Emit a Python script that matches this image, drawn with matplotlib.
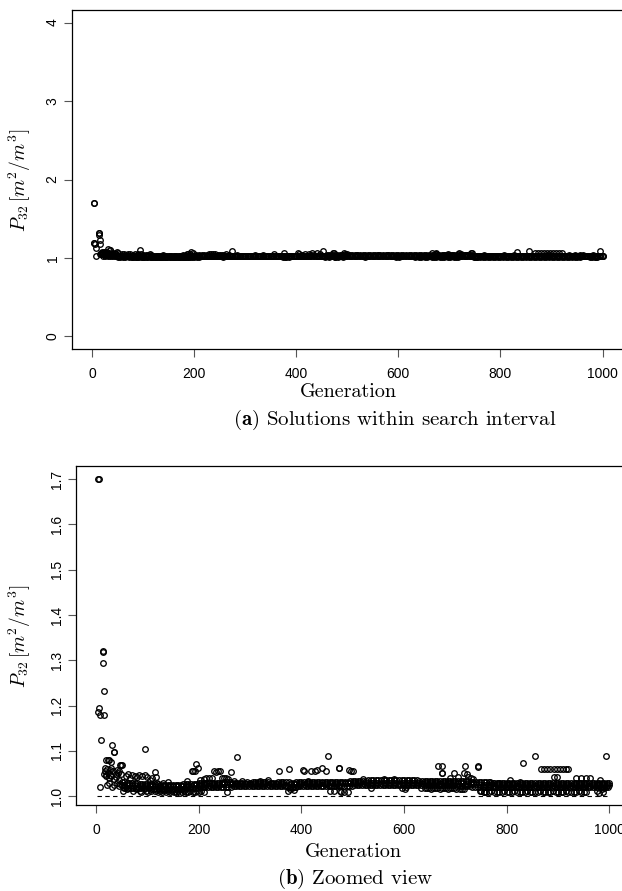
import matplotlib
matplotlib.use("Agg")
import matplotlib.pyplot as plt
import numpy as np

plt.rcParams["mathtext.fontset"] = "cm"
plt.rcParams["font.family"] = ["Liberation Sans", "DejaVu Sans"]

# main band of the population, read every 5 generations
# upper edge: gens 50, 55, ..., 1000
band_hi = [1.031, 1.031, 1.030, 1.030, 1.029, 1.029, 1.029, 1.028, 1.028, 1.028,
           1.028, 1.027, 1.027, 1.027, 1.027, 1.026, 1.026, 1.026, 1.026, 1.026,
           1.026, 1.026, 1.026, 1.026, 1.027, 1.027, 1.027, 1.027, 1.028, 1.028,
           1.029, 1.029, 1.029, 1.030, 1.030, 1.030, 1.030, 1.030, 1.030, 1.030,
           1.031, 1.031, 1.031, 1.030, 1.030, 1.030, 1.030, 1.030, 1.030, 1.031,
           1.030, 1.031, 1.031, 1.031, 1.031, 1.031, 1.031, 1.031, 1.030, 1.030,
           1.030, 1.031, 1.031, 1.031, 1.031, 1.031, 1.030, 1.030, 1.031, 1.031,
           1.031, 1.031, 1.031, 1.031, 1.031, 1.031, 1.032, 1.032, 1.031, 1.031,
           1.031, 1.031, 1.032, 1.032, 1.032, 1.032, 1.032, 1.032, 1.032, 1.033,
           1.033, 1.033, 1.034, 1.034, 1.034, 1.034, 1.035, 1.035, 1.035, 1.035,
           1.035, 1.035, 1.035, 1.035, 1.035, 1.035, 1.035, 1.035, 1.035, 1.035,
           1.035, 1.035, 1.035, 1.035, 1.035, 1.035, 1.034, 1.034, 1.034, 1.034,
           1.034, 1.034, 1.034, 1.034, 1.034, 1.034, 1.034, 1.034, 1.034, 1.034,
           1.034, 1.034, 1.033, 1.033, 1.033, 1.033, 1.032, 1.032, 1.032, 1.032,
           1.031, 1.031, 1.031, 1.031, 1.030, 1.030, 1.030, 1.030, 1.030, 1.030,
           1.030, 1.030, 1.030, 1.030, 1.030, 1.030, 1.030, 1.030, 1.030, 1.030,
           1.030, 1.030, 1.030, 1.030, 1.030, 1.030, 1.030, 1.030, 1.030, 1.030,
           1.030, 1.030, 1.030, 1.030, 1.030, 1.030, 1.030, 1.030, 1.030, 1.030,
           1.030, 1.030, 1.030, 1.030, 1.030, 1.030, 1.030, 1.030, 1.030, 1.030,
           1.029]
# centre: gens 50, 55, ..., 1000
band_mid = [1.026, 1.025, 1.025, 1.024, 1.024, 1.024, 1.023, 1.023, 1.023, 1.023,
            1.023, 1.023, 1.022, 1.022, 1.022, 1.022, 1.022, 1.022, 1.022, 1.022,
            1.022, 1.022, 1.022, 1.022, 1.023, 1.023, 1.023, 1.023, 1.024, 1.024,
            1.025, 1.025, 1.025, 1.026, 1.026, 1.026, 1.026, 1.026, 1.026, 1.027,
            1.027, 1.027, 1.027, 1.027, 1.027, 1.027, 1.027, 1.027, 1.027, 1.027,
            1.027, 1.027, 1.028, 1.027, 1.027, 1.027, 1.028, 1.027, 1.027, 1.027,
            1.027, 1.028, 1.027, 1.027, 1.026, 1.025, 1.027, 1.027, 1.027, 1.027,
            1.028, 1.028, 1.028, 1.028, 1.028, 1.028, 1.028, 1.028, 1.029, 1.028,
            1.028, 1.028, 1.029, 1.028, 1.028, 1.028, 1.029, 1.029, 1.029, 1.029,
            1.029, 1.029, 1.030, 1.030, 1.030, 1.030, 1.030, 1.030, 1.030, 1.030,
            1.030, 1.030, 1.030, 1.030, 1.030, 1.030, 1.030, 1.030, 1.030, 1.030,
            1.030, 1.030, 1.030, 1.030, 1.030, 1.030, 1.030, 1.030, 1.030, 1.030,
            1.030, 1.030, 1.030, 1.030, 1.030, 1.030, 1.030, 1.030, 1.030, 1.030,
            1.030, 1.029, 1.029, 1.029, 1.028, 1.028, 1.028, 1.027, 1.027, 1.027,
            1.026, 1.026, 1.026, 1.026, 1.026, 1.026, 1.026, 1.026, 1.026, 1.026,
            1.026, 1.026, 1.026, 1.026, 1.026, 1.026, 1.026, 1.026, 1.026, 1.026,
            1.026, 1.026, 1.026, 1.026, 1.026, 1.026, 1.026, 1.026, 1.026, 1.026,
            1.026, 1.026, 1.026, 1.026, 1.026, 1.026, 1.026, 1.026, 1.026, 1.026,
            1.026, 1.026, 1.026, 1.026, 1.026, 1.026, 1.026, 1.026, 1.026, 1.026,
            1.026]
# lower edge: gens 53, 58, ..., 998
band_lo = [1.020, 1.020, 1.019, 1.019, 1.019, 1.018, 1.018, 1.018, 1.018, 1.018,
           1.018, 1.017, 1.017, 1.017, 1.017, 1.017, 1.017, 1.017, 1.017, 1.017,
           1.017, 1.017, 1.017, 1.017, 1.017, 1.018, 1.018, 1.018, 1.019, 1.019,
           1.020, 1.020, 1.020, 1.020, 1.021, 1.021, 1.021, 1.021, 1.021, 1.021,
           1.021, 1.021, 1.021, 1.022, 1.022, 1.022, 1.022, 1.022, 1.022, 1.022,
           1.022, 1.022, 1.022, 1.022, 1.022, 1.022, 1.022, 1.022, 1.022, 1.022,
           1.022, 1.022, 1.022, 1.022, 1.021, 1.021, 1.020, 1.020, 1.022, 1.022,
           1.022, 1.022, 1.022, 1.022, 1.022, 1.022, 1.022, 1.022, 1.023, 1.023,
           1.023, 1.023, 1.023, 1.023, 1.023, 1.023, 1.023, 1.023, 1.023, 1.023,
           1.024, 1.024, 1.024, 1.024, 1.024, 1.024, 1.024, 1.024, 1.024, 1.024,
           1.024, 1.024, 1.024, 1.024, 1.024, 1.024, 1.024, 1.024, 1.024, 1.024,
           1.024, 1.024, 1.024, 1.024, 1.024, 1.024, 1.024, 1.024, 1.024, 1.024,
           1.024, 1.024, 1.024, 1.024, 1.024, 1.024, 1.024, 1.024, 1.024, 1.024,
           1.023, 1.023, 1.022, 1.022, 1.022, 1.022, 1.021, 1.021, 1.021, 1.021,
           1.020, 1.020, 1.020, 1.020, 1.020, 1.020, 1.020, 1.020, 1.020, 1.020,
           1.020, 1.020, 1.020, 1.020, 1.020, 1.020, 1.020, 1.020, 1.020, 1.020,
           1.020, 1.020, 1.020, 1.020, 1.020, 1.020, 1.020, 1.020, 1.020, 1.020,
           1.020, 1.020, 1.020, 1.020, 1.020, 1.020, 1.020, 1.020, 1.020, 1.020,
           1.020, 1.020, 1.020, 1.020, 1.020, 1.020, 1.020, 1.020, 1.020, 1.020]
band_hi_gen = 50 + 5 * np.arange(len(band_hi))
band_mid_gen = 50 + 5 * np.arange(len(band_mid))
band_lo_gen = 53 + 5 * np.arange(len(band_lo))

# lower runs of solutions just above 1.0
low_gen = [115, 120, 124, 128, 132, 136, 140, 144, 148, 152, 156, 160, 164, 168,
           172, 176, 180, 184, 188, 192, 196, 200, 205, 210,
           645, 649, 653, 657, 661, 665, 669, 673, 677, 681, 685, 689, 693, 697, 701,
           750, 755, 760, 765, 770, 775, 780, 785, 790, 795, 800, 805, 810, 815,
           820, 825, 830, 835, 840, 845, 850, 855, 860, 865, 870, 875, 880, 885,
           890, 895, 900, 905, 910, 915, 920, 925, 930, 935, 940, 945, 950, 955]
low_val = [1.011, 1.009, 1.012, 1.010, 1.013, 1.009, 1.011, 1.010, 1.012, 1.009,
           1.010, 1.012, 1.008, 1.010, 1.011, 1.009, 1.010, 1.012, 1.010, 1.009,
           1.011, 1.010, 1.012, 1.009,
           1.018, 1.019, 1.017, 1.018, 1.019, 1.018, 1.017, 1.018, 1.019, 1.018,
           1.017, 1.018, 1.019, 1.018, 1.017,
           1.011, 1.010, 1.009, 1.010, 1.011, 1.010, 1.009, 1.010, 1.010, 1.011,
           1.010, 1.009, 1.010, 1.011, 1.010, 1.010, 1.009, 1.010, 1.011, 1.010,
           1.010, 1.009, 1.010, 1.011, 1.010, 1.010, 1.009, 1.010, 1.011, 1.010,
           1.010, 1.009, 1.010, 1.011, 1.010, 1.010, 1.009, 1.010, 1.011, 1.010,
           1.010, 1.009]

# scattered solutions
pt_gen = [4, 5, 13, 14, 13, 15, 5, 4, 7, 15, 9, 8,
          31, 35, 36, 20, 23, 26, 30, 46, 49, 51,
          16, 18, 21, 24, 27, 29, 33, 38, 40, 42, 45, 48,
          20, 25, 30, 35, 39, 44, 22, 26, 32, 36, 40, 44, 47, 52, 55, 17, 19, 28,
          58, 62, 66, 70, 75, 80, 84, 88, 86, 90, 95, 96, 100, 105, 110, 114, 116,
          118, 60, 65, 72, 78, 98, 102, 108,
          130, 140, 178, 186, 189, 192, 195, 198, 203, 210, 215, 220, 225, 229, 233,
          238, 242, 246, 250, 254, 258, 256, 263, 274, 268, 285,
          320, 335, 357, 376, 374, 378, 381, 385, 390, 404, 405, 412, 418, 426, 431,
          440, 447, 452, 456, 464, 473, 474, 476, 477, 482, 491, 496, 500, 493,
          520, 535, 560, 580, 596, 601, 603, 632, 640, 666, 673, 673, 674, 690, 698,
          705, 709, 713, 716, 718, 717, 722, 725, 730, 743, 744, 735, 748, 755,
          767, 773, 784, 806, 826, 832, 855, 867, 873, 879, 885, 891, 897, 903, 909,
          915, 920, 891, 897, 934, 945, 955, 962, 981, 994, 975, 980, 985, 988, 990, 978]
pt_val = [1.700, 1.700, 1.319, 1.320, 1.295, 1.233, 1.194, 1.185, 1.180, 1.180, 1.124, 1.020,
          1.114, 1.098, 1.097, 1.080, 1.080, 1.080, 1.075, 1.069, 1.070, 1.068,
          1.050, 1.055, 1.060, 1.052, 1.058, 1.062, 1.055, 1.050, 1.058, 1.052, 1.056, 1.050,
          1.045, 1.040, 1.045, 1.038, 1.042, 1.035, 1.025, 1.030, 1.020, 1.026, 1.030,
          1.022, 1.028, 1.012, 1.018, 1.062, 1.048, 1.048,
          1.045, 1.050, 1.040, 1.048, 1.045, 1.042, 1.048, 1.010, 1.011, 1.045, 1.105,
          1.046, 1.042, 1.035, 1.040, 1.054, 1.043,
          1.030, 1.015, 1.018, 1.012, 1.015, 1.012, 1.010, 1.012,
          1.030, 1.032, 1.034, 1.056, 1.056, 1.055, 1.071, 1.062, 1.035, 1.038, 1.040,
          1.040, 1.040, 1.055, 1.054, 1.056, 1.055, 1.040, 1.040, 1.040, 1.038, 1.010,
          1.054, 1.087, 1.034, 1.033,
          1.034, 1.035, 1.056, 1.060, 1.012, 1.016, 1.018, 1.014, 1.020, 1.057, 1.055,
          1.034, 1.056, 1.055, 1.058, 1.062, 1.056, 1.090, 1.012, 1.012, 1.062, 1.063,
          1.011, 1.010, 1.010, 1.009, 1.056, 1.056, 1.058,
          1.038, 1.018, 1.038, 1.038, 1.018, 1.015, 1.020, 1.018, 1.018, 1.067, 1.067,
          1.051, 1.052, 1.040, 1.051, 1.042, 1.016, 1.016, 1.015, 1.067, 1.051, 1.049,
          1.042, 1.040, 1.065, 1.066, 1.038, 1.011, 1.010,
          1.032, 1.030, 1.029, 1.037, 1.032, 1.073, 1.090, 1.060, 1.060, 1.060, 1.060,
          1.060, 1.060, 1.060, 1.060, 1.060, 1.060, 1.042, 1.042, 1.040, 1.040, 1.040,
          1.040, 1.035, 1.090, 1.012, 1.008, 1.015, 1.010, 1.018, 1.025]

gens = np.concatenate([band_hi_gen, band_mid_gen, band_lo_gen, low_gen, pt_gen])
vals = np.concatenate([band_hi, band_mid, band_lo, low_val, pt_val])

W, H = 622, 891
fig = plt.figure(figsize=(W / 100, H / 100), dpi=100)


def panel(left, right, top, bottom, ylim, yticks, yfmt, dashed):
    ax = fig.add_axes([left / W, 1 - bottom / H, (right - left) / W, (bottom - top) / H])
    ax.plot(gens, vals, "o", mfc="none", mec="black", mew=0.95, ms=4.0, ls="none")
    if dashed:
        ax.plot([1, 1000], [1.0, 1.0], color="black", lw=0.8, dashes=(4, 3))
    ax.set_xlim(-38.96, 1039.96)
    ax.set_ylim(*ylim)
    ax.set_xticks([0, 200, 400, 600, 800, 1000])
    ax.set_yticks(yticks)
    ax.set_yticklabels([yfmt.format(v) for v in yticks], rotation=90, va="center")
    ax.tick_params(length=6, width=0.8, color="#555555", labelsize=10)
    ax.tick_params(axis="x", pad=7)
    ax.tick_params(axis="y", pad=3)
    for s in ax.spines.values():
        s.set_linewidth(0.9)
    return ax


# (a) Solutions within search interval
panel(72, 623, 10, 349, (-0.16, 4.16), [0, 1, 2, 3, 4], "{:d}", False)
fig.text(348 / W, 1 - 392 / H, "Generation", fontfamily="cmr10", fontsize=14.5, ha="center", va="center")
fig.text(20 / W, 1 - 180 / H, r"$P_{32}\,[m^2/m^3]$", fontsize=14, rotation=90, ha="center", va="center")
fig.text(233 / W, 1 - 420 / H, r"$\mathbf{(a)}$ Solutions within search interval",
         fontfamily="cmr10", fontsize=15, ha="left", va="center")

# (b) Zoomed view
panel(76, 630, 466, 805, (0.9808, 1.7287), [1.0, 1.1, 1.2, 1.3, 1.4, 1.5, 1.6, 1.7], "{:.1f}", True)
fig.text(353 / W, 1 - 852 / H, "Generation", fontfamily="cmr10", fontsize=14.5, ha="center", va="center")
fig.text(20 / W, 1 - 636 / H, r"$P_{32}\,[m^2/m^3]$", fontsize=14, rotation=90, ha="center", va="center")
fig.text(277 / W, 1 - 879 / H, r"$\mathbf{(b)}$ Zoomed view",
         fontfamily="cmr10", fontsize=15, ha="left", va="center")

fig.savefig("out.png", dpi=100)
